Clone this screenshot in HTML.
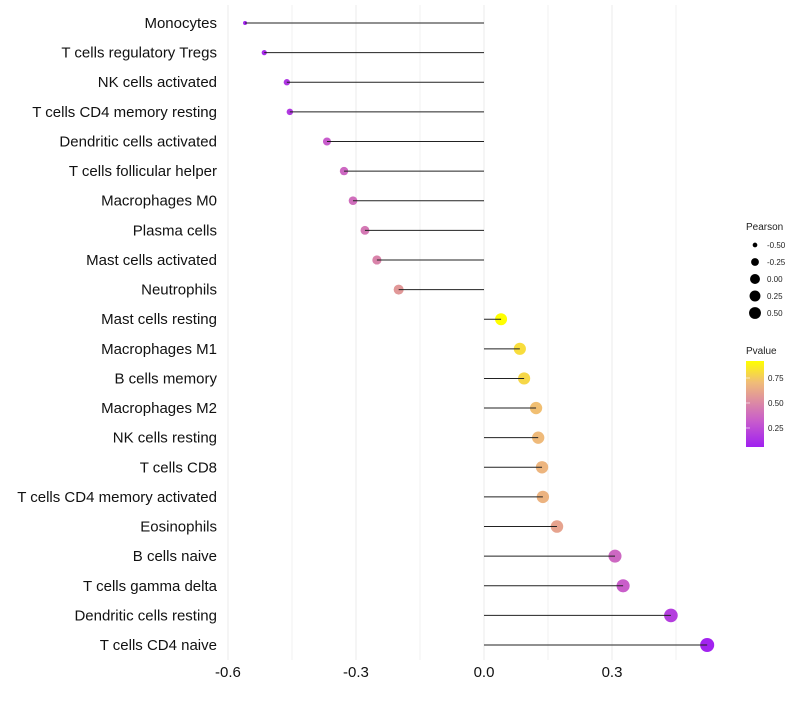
<!DOCTYPE html>
<html><head><meta charset="utf-8"><style>
body{margin:0;background:#fff;font-family:"Liberation Sans",sans-serif}
svg text{font-family:"Liberation Sans",sans-serif}
</style></head><body>
<svg id="chart" width="800" height="700">
<defs><linearGradient id="pg" x1="0" y1="1" x2="0" y2="0">
<stop offset="0" stop-color="#a020f0"/><stop offset="0.3" stop-color="#c85ccc"/><stop offset="0.52" stop-color="#dc8aa4"/><stop offset="0.75" stop-color="#f0bc78"/><stop offset="1" stop-color="#ffff00"/></linearGradient></defs>
<g id="grid"></g><g id="points"></g><g id="marks"></g><g id="labels"></g><g id="legend"></g>
</svg>
<script>
const categories=["Monocytes","T cells regulatory  Tregs","NK cells activated","T cells CD4 memory resting","Dendritic cells activated","T cells follicular helper","Macrophages M0","Plasma cells","Mast cells activated","Neutrophils","Mast cells resting","Macrophages M1","B cells memory","Macrophages M2","NK cells resting","T cells CD8","T cells CD4 memory activated","Eosinophils","B cells naive","T cells gamma delta","Dendritic cells resting","T cells CD4 naive"];
const pearson=[-0.56,-0.515,-0.462,-0.455,-0.368,-0.328,-0.307,-0.279,-0.251,-0.2,0.04,0.084,0.094,0.122,0.127,0.136,0.138,0.171,0.307,0.326,0.438,0.523];
const pvalue=[0.07,0.1,0.15,0.16,0.3,0.35,0.38,0.42,0.47,0.56,0.92,0.82,0.8,0.73,0.71,0.69,0.68,0.61,0.35,0.31,0.18,0.07];
const xTicks=[-0.6,-0.3,0.0,0.3];
const xMinor=[-0.45,-0.15,0.15,0.45];
const sizeLegend=[-0.5,-0.25,0,0.25,0.5];
const pTicks=[0.25,0.5,0.75];
const NS="http://www.w3.org/2000/svg";
const x=v=>484+v*426.7;
const y=i=>23+i*29.62;
const sizeAnchors=[[-0.6,1.6],[-0.56,2],[-0.515,2.6],[-0.46,3.2],[-0.37,4],[-0.25,4.6],[-0.2,5],[0.04,6],[0.3,6.5],[0.55,7.1]];
function r(v){const A=sizeAnchors;if(v<=A[0][0])return A[0][1];for(let k=0;k<A.length-1;k++){if(v<=A[k+1][0]){const t=(v-A[k][0])/(A[k+1][0]-A[k][0]);return A[k][1]+(A[k+1][1]-A[k][1])*t;}}return A[A.length-1][1];}
const stops=[[0.06,[160,32,240]],[0.3,[200,92,204]],[0.5,[220,138,164]],[0.72,[240,188,120]],[0.92,[255,255,0]]];
function col(p){p=Math.max(0.06,Math.min(0.92,p));for(let k=0;k<stops.length-1;k++){const a=stops[k],b=stops[k+1];if(p<=b[0]){const t=(p-a[0])/(b[0]-a[0]);return 'rgb('+a[1].map((c,j)=>Math.round(c+(b[1][j]-c)*t)).join(',')+')';}}return 'rgb(255,255,0)';}
function mk(tag,at,parent){const e=document.createElementNS(NS,tag);for(const k in at)e.setAttribute(k,at[k]);parent.appendChild(e);return e;}
const grid=document.getElementById('grid'),points=document.getElementById('points'),marks=document.getElementById('marks'),labels=document.getElementById('labels'),legend=document.getElementById('legend');
xMinor.forEach(v=>{const l=mk('line',{x1:x(v),x2:x(v),y1:5,y2:660,stroke:'#f2f2f2','stroke-width':1},grid);});
xTicks.forEach(v=>{const l=mk('line',{x1:x(v),x2:x(v),y1:5,y2:660,stroke:'#ebebeb','stroke-width':1},grid);
const t=mk('text',{x:x(v),y:677,'text-anchor':'middle','font-size':15,fill:'#111'},labels);t.textContent=v.toFixed(1);});
categories.forEach((c,i)=>{const t=mk('text',{x:217,y:y(i)+5,'text-anchor':'end','font-size':15,fill:'#111'},labels);t.textContent=c;
const p=mk('circle',{cx:x(pearson[i]),cy:y(i),r:r(pearson[i]),fill:col(pvalue[i])},points);
const l=mk('line',{x1:x(0),x2:x(pearson[i]),y1:y(i),y2:y(i),stroke:'#222','stroke-width':1},marks);});
let t=mk('text',{x:746,y:230,'font-size':10,fill:'#222'},legend);t.textContent='Pearson';
sizeLegend.forEach((v,k)=>{const cy=245+k*17;const c=mk('circle',{cx:755,cy:cy,r:r(v)*0.85},legend);
const tt=mk('text',{x:767,y:cy+3,'font-size':8,fill:'#222'},legend);tt.textContent=v.toFixed(2);});
t=mk('text',{x:746,y:354,'font-size':10,fill:'#222'},legend);t.textContent='Pvalue';
const bar=mk('rect',{x:746,y:361,width:18,height:86,fill:'url(#pg)'},legend);
const py=p=>447-(p-0.06)/(0.92-0.06)*86;
pTicks.forEach(p=>{const tt=mk('text',{x:768,y:py(p)+3,'font-size':8,fill:'#222'},legend);tt.textContent=p.toFixed(2);
const a=mk('line',{x1:746,x2:750,y1:py(p),y2:py(p),stroke:'#fff','stroke-width':0.6},legend);});
</script>
</body></html>
